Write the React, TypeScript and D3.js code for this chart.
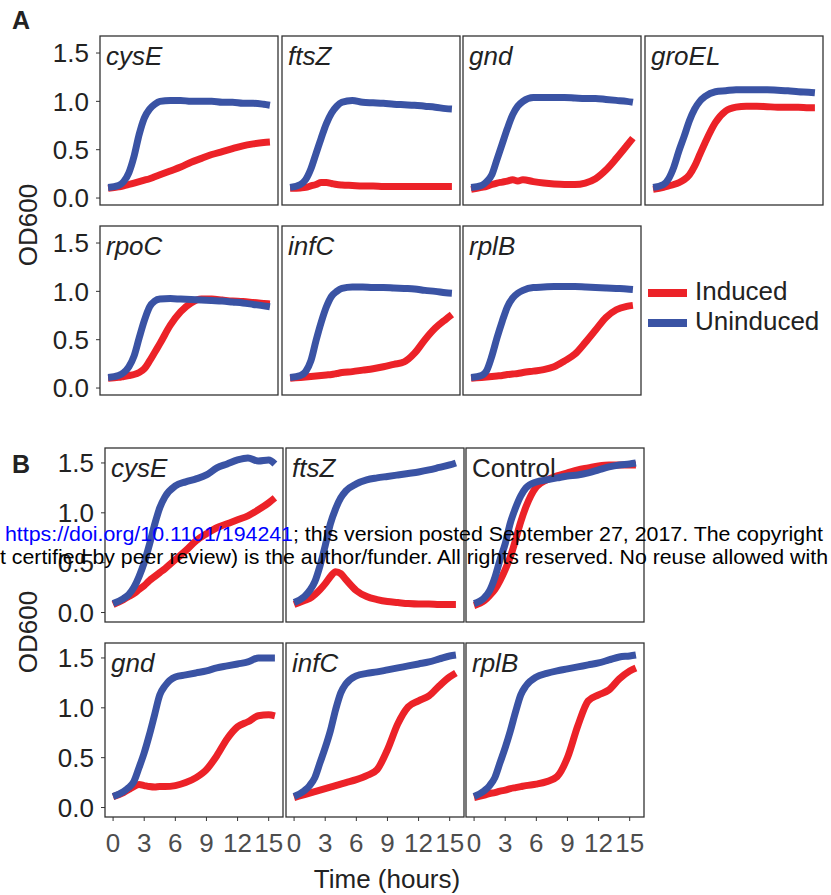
import React from "react";
import * as d3 from "d3";

// Time points (hours)
const TIME = [0, 1, 1.5, 2, 2.5, 3, 3.5, 4, 4.5, 5, 6, 7, 8, 9, 10, 11, 12, 13, 14, 15, 15.6];

// ---- Panel A (OD600) ----
const A_cysE_ind = [0.10, 0.115, 0.125, 0.14, 0.155, 0.17, 0.185, 0.2, 0.22, 0.24, 0.28, 0.32, 0.37, 0.41, 0.45, 0.48, 0.51, 0.54, 0.56, 0.575, 0.58];
const A_cysE_un = [0.11, 0.13, 0.17, 0.26, 0.43, 0.66, 0.83, 0.92, 0.97, 1.0, 1.01, 1.01, 1.0, 1.0, 1.0, 0.99, 0.99, 0.98, 0.98, 0.97, 0.96];
const A_ftsZ_ind = [0.10, 0.105, 0.11, 0.125, 0.14, 0.16, 0.16, 0.15, 0.14, 0.135, 0.13, 0.125, 0.125, 0.12, 0.12, 0.12, 0.12, 0.12, 0.12, 0.12, 0.12];
const A_ftsZ_un = [0.11, 0.14, 0.19, 0.3, 0.46, 0.62, 0.77, 0.88, 0.95, 0.99, 1.01, 0.99, 0.985, 0.98, 0.97, 0.965, 0.96, 0.95, 0.94, 0.925, 0.92];
const A_gnd_ind = [0.09, 0.11, 0.12, 0.14, 0.155, 0.165, 0.175, 0.19, 0.175, 0.19, 0.17, 0.155, 0.145, 0.14, 0.14, 0.155, 0.2, 0.29, 0.41, 0.54, 0.62];
const A_gnd_un = [0.11, 0.13, 0.17, 0.24, 0.4, 0.56, 0.72, 0.86, 0.95, 1.0, 1.04, 1.04, 1.04, 1.04, 1.035, 1.03, 1.03, 1.02, 1.01, 1.0, 0.99];
const A_groEL_ind = [0.09, 0.11, 0.125, 0.14, 0.16, 0.19, 0.24, 0.33, 0.45, 0.57, 0.78, 0.9, 0.94, 0.95, 0.95, 0.945, 0.94, 0.94, 0.94, 0.935, 0.935];
const A_groEL_un = [0.11, 0.14, 0.2, 0.32, 0.49, 0.64, 0.8, 0.92, 1.0, 1.05, 1.1, 1.11, 1.12, 1.12, 1.12, 1.12, 1.115, 1.11, 1.1, 1.095, 1.09];
const A_rpoC_ind = [0.10, 0.11, 0.12, 0.13, 0.14, 0.16, 0.2, 0.28, 0.37, 0.46, 0.65, 0.79, 0.88, 0.92, 0.92, 0.91, 0.9, 0.895, 0.885, 0.875, 0.87];
const A_rpoC_un = [0.11, 0.13, 0.16, 0.22, 0.33, 0.52, 0.7, 0.84, 0.9, 0.92, 0.925, 0.92, 0.915, 0.91, 0.905, 0.9, 0.89, 0.88, 0.865, 0.85, 0.84];
const A_infC_ind = [0.10, 0.11, 0.115, 0.12, 0.125, 0.13, 0.135, 0.14, 0.15, 0.16, 0.17, 0.185, 0.2, 0.22, 0.245, 0.27, 0.36, 0.5, 0.62, 0.71, 0.76];
const A_infC_un = [0.11, 0.13, 0.17, 0.28, 0.49, 0.68, 0.84, 0.95, 1.0, 1.03, 1.045, 1.045, 1.04, 1.04, 1.035, 1.03, 1.025, 1.01, 1.0, 0.985, 0.98];
const A_rplB_ind = [0.10, 0.11, 0.115, 0.12, 0.125, 0.13, 0.14, 0.145, 0.15, 0.16, 0.175, 0.19, 0.22, 0.28, 0.35, 0.47, 0.6, 0.73, 0.81, 0.845, 0.855];
const A_rplB_un = [0.11, 0.13, 0.18, 0.33, 0.52, 0.69, 0.84, 0.93, 0.98, 1.01, 1.04, 1.045, 1.05, 1.05, 1.05, 1.045, 1.04, 1.035, 1.03, 1.025, 1.02];

// ---- Panel B (OD600) ----
const B_cysE_ind = [0.08, 0.13, 0.16, 0.19, 0.23, 0.27, 0.32, 0.36, 0.4, 0.44, 0.53, 0.62, 0.72, 0.79, 0.85, 0.89, 0.93, 0.97, 1.03, 1.1, 1.15];
const B_cysE_un = [0.09, 0.14, 0.18, 0.25, 0.36, 0.5, 0.68, 0.88, 1.05, 1.16, 1.27, 1.31, 1.34, 1.38, 1.45, 1.49, 1.53, 1.55, 1.52, 1.53, 1.49];
const B_ftsZ_ind = [0.08, 0.12, 0.14, 0.18, 0.23, 0.29, 0.36, 0.41, 0.39, 0.33, 0.22, 0.16, 0.13, 0.11, 0.1, 0.09, 0.085, 0.085, 0.08, 0.08, 0.08];
const B_ftsZ_un = [0.1, 0.16, 0.22, 0.31, 0.47, 0.67, 0.89, 1.04, 1.15, 1.22, 1.29, 1.33, 1.35, 1.365, 1.38, 1.395, 1.41, 1.43, 1.455, 1.48, 1.5];
const B_ctrl_ind = [0.07, 0.12, 0.17, 0.23, 0.32, 0.43, 0.56, 0.73, 0.91, 1.06, 1.26, 1.33, 1.37, 1.4, 1.43, 1.45, 1.47, 1.48, 1.48, 1.48, 1.48];
const B_ctrl_un = [0.09, 0.15, 0.22, 0.35, 0.53, 0.69, 0.9, 1.05, 1.17, 1.25, 1.31, 1.33, 1.35, 1.37, 1.38, 1.4, 1.43, 1.46, 1.48, 1.49, 1.5];
const B_gnd_ind = [0.11, 0.15, 0.18, 0.21, 0.23, 0.22, 0.21, 0.205, 0.21, 0.21, 0.22, 0.25, 0.3, 0.38, 0.52, 0.69, 0.81, 0.86, 0.92, 0.93, 0.92];
const B_gnd_un = [0.11, 0.16, 0.2, 0.26, 0.4, 0.55, 0.73, 0.93, 1.13, 1.22, 1.31, 1.33, 1.35, 1.37, 1.4, 1.42, 1.44, 1.46, 1.5, 1.5, 1.5];
const B_infC_ind = [0.1, 0.13, 0.145, 0.16, 0.175, 0.19, 0.205, 0.22, 0.235, 0.25, 0.28, 0.32, 0.38, 0.58, 0.84, 1.01, 1.07, 1.12, 1.22, 1.31, 1.35];
const B_infC_un = [0.11, 0.17, 0.22, 0.3, 0.45, 0.6, 0.77, 0.98, 1.15, 1.24, 1.32, 1.345, 1.36, 1.38, 1.4, 1.42, 1.44, 1.46, 1.49, 1.52, 1.53];
const B_rplB_ind = [0.1, 0.125, 0.14, 0.15, 0.165, 0.175, 0.19, 0.2, 0.21, 0.22, 0.235, 0.26, 0.31, 0.5, 0.82, 1.07, 1.13, 1.18, 1.29, 1.37, 1.4];
const B_rplB_un = [0.11, 0.17, 0.22, 0.3, 0.45, 0.6, 0.77, 0.96, 1.13, 1.22, 1.31, 1.345, 1.37, 1.39, 1.41, 1.43, 1.45, 1.48, 1.51, 1.52, 1.53];

const Y_TICKS = [0, 0.5, 1.0, 1.5];
const X_TICKS = [0, 3, 6, 9, 12, 15];
const LEGEND = ["Induced", "Uninduced"];

const RED = "#EC2228";
const BLUE = "#3A53A4";
const FONT = "'Liberation Sans', Arial, Helvetica, sans-serif";

type Panel = { name: string; italic: boolean; col: number; row: number; ind: number[]; un: number[] };

const panelsA: Panel[] = [
  { name: "cysE", italic: true, col: 0, row: 0, ind: A_cysE_ind, un: A_cysE_un },
  { name: "ftsZ", italic: true, col: 1, row: 0, ind: A_ftsZ_ind, un: A_ftsZ_un },
  { name: "gnd", italic: true, col: 2, row: 0, ind: A_gnd_ind, un: A_gnd_un },
  { name: "groEL", italic: true, col: 3, row: 0, ind: A_groEL_ind, un: A_groEL_un },
  { name: "rpoC", italic: true, col: 0, row: 1, ind: A_rpoC_ind, un: A_rpoC_un },
  { name: "infC", italic: true, col: 1, row: 1, ind: A_infC_ind, un: A_infC_un },
  { name: "rplB", italic: true, col: 2, row: 1, ind: A_rplB_ind, un: A_rplB_un },
];
const panelsB: Panel[] = [
  { name: "cysE", italic: true, col: 0, row: 0, ind: B_cysE_ind, un: B_cysE_un },
  { name: "ftsZ", italic: true, col: 1, row: 0, ind: B_ftsZ_ind, un: B_ftsZ_un },
  { name: "Control", italic: false, col: 2, row: 0, ind: B_ctrl_ind, un: B_ctrl_un },
  { name: "gnd", italic: true, col: 0, row: 1, ind: B_gnd_ind, un: B_gnd_un },
  { name: "infC", italic: true, col: 1, row: 1, ind: B_infC_ind, un: B_infC_un },
  { name: "rplB", italic: true, col: 2, row: 1, ind: B_rplB_ind, un: B_rplB_un },
];

const PW = 178;

type Grid = {
  colLeft: number[];
  rowTop: number[];
  h: number;
  yDomain: [number, number];
};

const gridA: Grid = { colLeft: [100, 282, 463, 645], rowTop: [36, 226], h: 169, yDomain: [-0.072, 1.676] };
const gridB: Grid = { colLeft: [105, 286, 466], rowTop: [448, 643], h: 174, yDomain: [-0.095, 1.65] };

function PanelView({ p, g, showY, showX }: { p: Panel; g: Grid; showY: boolean; showX: boolean }) {
  const left = g.colLeft[p.col];
  const top = g.rowTop[p.row];
  const x = d3.scaleLinear().domain([-0.78, 16.38]).range([left, left + PW]);
  const y = d3.scaleLinear().domain(g.yDomain).range([top + g.h, top]);
  const line = d3
    .line<number>()
    .x((_, i) => x(TIME[i]))
    .y((d) => y(d))
    .curve(d3.curveMonotoneX);
  return (
    <g>
      <rect x={left} y={top} width={PW} height={g.h} fill="#fff" stroke="#333" strokeWidth={1.3} />
      <path d={line(p.ind) || ""} fill="none" stroke={RED} strokeWidth={7} strokeLinejoin="round" />
      <path d={line(p.un) || ""} fill="none" stroke={BLUE} strokeWidth={7} strokeLinejoin="round" />
      <text
        x={left + 6}
        y={top + 29}
        fontSize={26}
        fontStyle={p.italic ? "italic" : "normal"}
        fill="#222"
        fontFamily={FONT}
      >
        {p.name}
      </text>
      {showY &&
        Y_TICKS.map((t) => (
          <g key={t}>
            <line x1={left - 4} x2={left} y1={y(t)} y2={y(t)} stroke="#333" strokeWidth={1} />
            <text x={left - 11} y={y(t)} dy="0.36em" textAnchor="end" fontSize={26} fill="#222" fontFamily={FONT}>
              {t.toFixed(1)}
            </text>
          </g>
        ))}
      {showX &&
        X_TICKS.map((t) => (
          <g key={t}>
            <line x1={x(t)} x2={x(t)} y1={top + g.h} y2={top + g.h + 4} stroke="#333" strokeWidth={1} />
            <text x={x(t)} y={top + g.h + 35} textAnchor="middle" fontSize={26} fill="#4d4d4d" fontFamily={FONT}>
              {t}
            </text>
          </g>
        ))}
    </g>
  );
}

export default function App() {
  return (
    <svg
      width={831}
      height={895}
      style={{ position: "absolute", left: 0, top: 0, background: "#fff" }}
      fontFamily={FONT}
    >
      <rect x={0} y={0} width={831} height={895} fill="#fff" />
      <text x={12} y={29} fontSize={25} fontWeight="bold" fill="#222">A</text>
      <text x={12} y={473} fontSize={25} fontWeight="bold" fill="#222">B</text>

      {panelsA.map((p) => (
        <PanelView key={"A" + p.name} p={p} g={gridA} showY={p.col === 0} showX={false} />
      ))}
      {panelsB.map((p) => (
        <PanelView key={"B" + p.name} p={p} g={gridB} showY={p.col === 0} showX={p.row === 1} />
      ))}

      <text transform="translate(37,225) rotate(-90)" textAnchor="middle" fontSize={26} fill="#222">OD600</text>
      <text transform="translate(37,632) rotate(-90)" textAnchor="middle" fontSize={26} fill="#222">OD600</text>
      <text x={387} y={888} textAnchor="middle" fontSize={26} fill="#222">Time (hours)</text>

      {/* legend */}
      {LEGEND.map((lab, i) => (
        <g key={lab}>
          <line x1={648} x2={687} y1={293 + i * 30} y2={293 + i * 30} stroke={i === 0 ? RED : BLUE} strokeWidth={8} />
          <text x={695} y={300 + i * 30} fontSize={26} fill="#222">{lab}</text>
        </g>
      ))}

      {/* bioRxiv watermark overlay */}
      <text x={5} y={541} fontSize={21} fill="#000" textLength={818} lengthAdjust="spacingAndGlyphs">
        <tspan fill="#0000ff">https://doi.org/10.1101/194241</tspan>
        <tspan>; this version posted September 27, 2017. The copyright</tspan>
      </text>
      <text x={0} y={564} fontSize={21} fill="#000" textLength={828} lengthAdjust="spacingAndGlyphs">
        t certified by peer review) is the author/funder. All rights reserved. No reuse allowed with
      </text>
    </svg>
  );
}
